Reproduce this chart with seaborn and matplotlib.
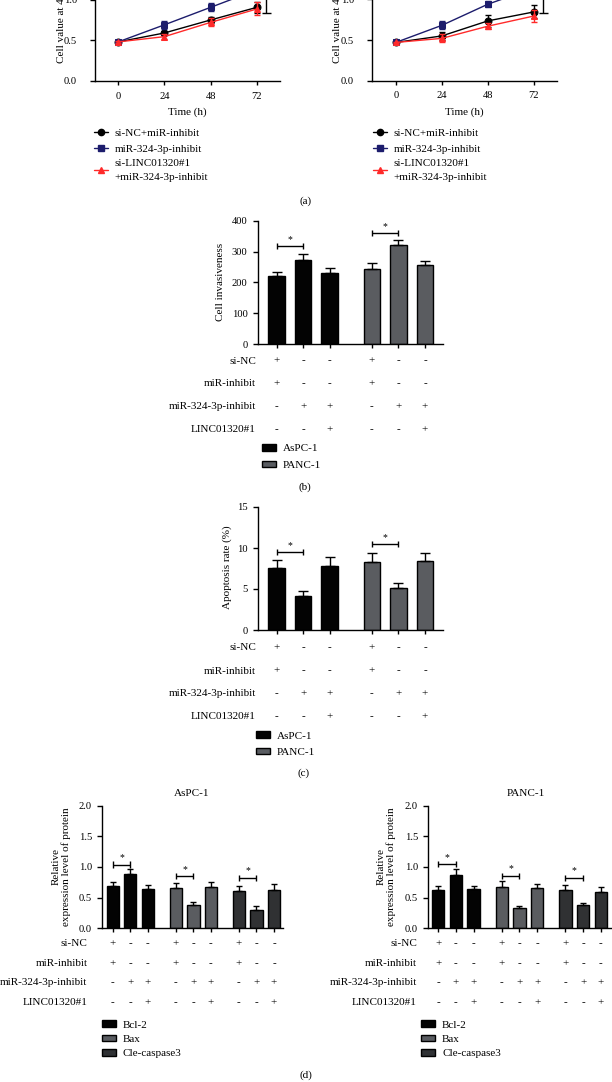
import numpy as np
import pandas as pd
import matplotlib
matplotlib.use('Agg')
import matplotlib.pyplot as plt
import matplotlib.transforms as mtrans
from matplotlib.lines import Line2D
from matplotlib.patches import Patch
import seaborn as sns

W, H = 612, 1082

# ---------------- data ----------------
time_h = [0, 24, 48, 72]
a_labels = ['si-NC+miR-inhibit', 'miR-324-3p-inhibit', 'si-LINC01320#1\n+miR-324-3p-inhibit']
a_colors = ['#000000', '#1c1c6c', '#ff2a2a']
a_markers = ['o', 's', '^']

a1_nc = [0.48, 0.59, 0.75, 0.905]
a1_mir = [0.48, 0.69, 0.905, 1.12]
a1_si = [0.48, 0.545, 0.72, 0.885]
a1_nc_err = [0.01, 0.03, 0.04, 0.07]
a1_mir_err = [0.01, 0.05, 0.05, 0.06]
a1_si_err = [0.01, 0.03, 0.05, 0.08]

a2_nc = [0.47, 0.55, 0.735, 0.845]
a2_mir = [0.47, 0.68, 0.94, 1.14]
a2_si = [0.47, 0.52, 0.67, 0.795]
a2_nc_err = [0.01, 0.05, 0.07, 0.08]
a2_mir_err = [0.01, 0.05, 0.04, 0.06]
a2_si_err = [0.01, 0.05, 0.04, 0.07]

a_sig_x = 76.8
a1_sig = [0.84, 1.3]
a2_sig = [0.83, 1.3]

row_names = ['si-NC', 'miR-inhibit', 'miR-324-3p-inhibit', 'LINC01320#1']
row_signs = [['+', '-', '-'], ['+', '-', '-'], ['-', '+', '+'], ['-', '-', '+']]

bc_pos = [0, 1, 2, 3.6, 4.6, 5.6]
bc_cells = ['AsPC-1'] * 3 + ['PANC-1'] * 3
cell_palette = {'AsPC-1': '#030303', 'PANC-1': '#595c61'}

b_vals = [222, 273, 232, 243, 320, 257]
b_err = [11, 19, 16, 21, 19, 13]
b_sig = [(0, 1, 319), (3.6, 4.6, 361)]

c_vals = [7.55, 4.2, 7.8, 8.25, 5.1, 8.42]
c_err = [1.0, 0.5, 1.06, 1.1, 0.65, 1.0]
c_sig = [(0, 1, 9.5), (3.6, 4.6, 10.5)]

d_pos = [0, 1, 2, 3.6, 4.6, 5.6, 7.2, 8.2, 9.2]
d_prot = ['Bcl-2'] * 3 + ['Bax'] * 3 + ['Cle-caspase3'] * 3
prot_palette = {'Bcl-2': '#030303', 'Bax': '#595c61', 'Cle-caspase3': '#2f3134'}

d1_vals = [0.69, 0.886, 0.646, 0.657, 0.38, 0.674, 0.61, 0.30, 0.63]
d1_err = [0.065, 0.085, 0.065, 0.087, 0.055, 0.076, 0.08, 0.06, 0.10]
d1_sig = [(0, 1, 1.04), (3.6, 4.6, 0.853), (7.2, 8.2, 0.826)]

d2_vals = [0.62, 0.865, 0.636, 0.674, 0.326, 0.663, 0.625, 0.38, 0.587]
d2_err = [0.065, 0.097, 0.06, 0.093, 0.045, 0.057, 0.075, 0.04, 0.093]
d2_sig = [(0, 1, 1.05), (3.6, 4.6, 0.86), (7.2, 8.2, 0.826)]

# ---------------- style ----------------
sns.set_theme(style='ticks')
plt.rcParams['font.family'] = ['Liberation Serif', 'DejaVu Serif']
plt.rcParams.update({
    'axes.linewidth': 1.0,
    'xtick.major.width': 1.0,
    'ytick.major.width': 1.0,
    'xtick.major.size': 3.2,
    'ytick.major.size': 3.5,
    'xtick.color': 'black',
    'ytick.color': 'black',
    'axes.edgecolor': 'black',
    'text.color': 'black',
})
FS_TICK = 7.6
FS = 8.0

fig = plt.figure(figsize=(W / 100, H / 100), dpi=100)


def fx(x):
    return x / W


def fy(y):
    return 1 - y / H


def add_ax(x0, x1, ytop, ybot):
    return fig.add_axes([fx(x0), fy(ybot), (x1 - x0) / W, (ybot - ytop) / H])


def ftext(x, y, s, **kw):
    kw.setdefault('fontsize', FS)
    return fig.text(fx(x), fy(y), s, **kw)


def style_ax(ax):
    sns.despine(ax=ax)
    ax.tick_params(labelsize=FS_TICK, colors='black')
    ax.set_xlabel('')
    ax.set_ylabel('')


# ---------------- panel (a) ----------------
def line_panel(x0, x1, y0, xlim, series, errs, sig, ylab_x):
    unit = 81.4
    ax = add_ax(x0, x1, y0 - 1.5 * unit, y0)
    for vals, err, col, mk in zip(series, errs, a_colors, a_markers):
        sns.lineplot(x=time_h, y=vals, color=col, marker=mk, markersize=5,
                     markeredgecolor=col, linewidth=1.0, ax=ax, legend=False)
        ax.errorbar(time_h, vals, yerr=err, fmt='none', ecolor=col,
                    elinewidth=1.0, capsize=2.5, capthick=1.0)
    ax.vlines(a_sig_x, sig[0], sig[1], color='black', lw=1.0)
    ax.hlines(sig[0], a_sig_x - 2.3, a_sig_x + 2.3, color='black', lw=1.0)
    ax.set_xlim(*xlim)
    ax.set_ylim(0, 1.5)
    ax.set_xticks(time_h)
    ax.set_yticks([0.0, 0.5, 1.0, 1.5])
    ax.set_yticklabels(['0.0', '0.5', '1.0', '1.5'])
    style_ax(ax)
    ax.tick_params(axis='y', pad=9.5)
    ax.tick_params(axis='x', pad=4.5)
    ftext((x0 + x1) / 2, 112, 'Time (h)', ha='center', va='center')
    ftext(ylab_x, 63, 'Cell value at 450 nm', rotation=90, ha='center', va='bottom')
    handles = [Line2D([], [], color=c, marker=m, ms=4.5, lw=1.0, mec=c)
               for c, m in zip(a_colors, a_markers)]
    return ax, handles


def line_legend(hd, x):
    leg = fig.legend(hd, a_labels, loc='upper left', bbox_to_anchor=(fx(x), fy(128.5)),
                     frameon=False, fontsize=FS, handlelength=1.25, handletextpad=0.6,
                     labelspacing=0.5, borderpad=0, borderaxespad=0)
    for t in leg.get_texts():
        t.set_linespacing(1.65)
    return leg


ax_a1, hd = line_panel(95, 280, 81, (-12, 84), [a1_nc, a1_mir, a1_si],
                       [a1_nc_err, a1_mir_err, a1_si_err], a1_sig, 61)
line_legend(hd, 94)
ax_a2, hd = line_panel(372, 557, 80.7, (-12.4, 84), [a2_nc, a2_mir, a2_si],
                       [a2_nc_err, a2_mir_err, a2_si_err], a2_sig, 338)
line_legend(hd, 373)
ftext(306, 201, '(a)', ha='center', va='center')


# ---------------- bar helper ----------------
def bar_panel(ax, pos, vals, errs, hues, palette, width, capsize, sig, dy):
    sns.barplot(x=pos, y=vals, hue=hues, palette=palette, native_scale=True,
                width=width, edgecolor='black', linewidth=1.0, errorbar=None,
                dodge=False, legend=False, ax=ax)
    ax.errorbar(pos, vals, yerr=[np.zeros(len(errs)), errs], fmt='none',
                ecolor='black', elinewidth=1.0, capsize=capsize, capthick=1.0)
    for xa, xb, yv in sig:
        ax.hlines(yv, xa, xb, color='black', lw=1.0)
        ax.vlines([xa, xb], yv - dy, yv + dy, color='black', lw=1.0)
        ax.annotate('*', xy=((xa + xb) / 2, yv), xytext=(0, 1.5),
                    textcoords='offset points', ha='center', va='bottom',
                    fontsize=7)
    ax.set_xticks(pos)
    ax.set_xticklabels([])
    style_ax(ax)


def sign_table(ax, pos, label_x, ys, reps):
    tr = mtrans.blended_transform_factory(ax.transData, fig.transFigure)
    for name, signs, y in zip(row_names, row_signs, ys):
        ftext(label_x, y, name, ha='right', va='center')
        full = signs * reps
        for p, s in zip(pos, full):
            ax.text(p, fy(y), s, transform=tr, ha='center', va='center',
                    fontsize=FS)


def patch_legend(labels, palette, x, ytop, spacing):
    hd = [Patch(facecolor=palette[l], edgecolor='black', lw=1.0) for l in labels]
    fig.legend(hd, labels, loc='upper left', bbox_to_anchor=(fx(x), fy(ytop)),
               frameon=False, fontsize=FS, handlelength=1.3, handleheight=0.55,
               handletextpad=0.6, labelspacing=spacing, borderpad=0,
               borderaxespad=0)


# ---------------- panel (b) ----------------
ub = 30.8 / 100
ax_b = add_ax(258, 443, 344 - 400 * ub, 344)
bar_panel(ax_b, bc_pos, b_vals, b_err, bc_cells, cell_palette, 0.63, 3.5, b_sig, 10)
ax_b.set_xlim(-0.7, 6.28)
ax_b.set_ylim(0, 400)
ax_b.set_yticks([0, 100, 200, 300, 400])
ax_b.tick_params(axis='y', pad=4)
ftext(220.7, 281.6, 'Cell invasiveness', rotation=90, ha='center', va='center')
sign_table(ax_b, bc_pos, 256, [361, 384, 406.7, 430], 2)
patch_legend(['AsPC-1', 'PANC-1'], cell_palette, 261.7, 444, 0.66)
ftext(305, 487, '(b)', ha='center', va='center')

# ---------------- panel (c) ----------------
uc = 8.2
ax_c = add_ax(258, 443, 630 - 15 * uc, 630)
bar_panel(ax_c, bc_pos, c_vals, c_err, bc_cells, cell_palette, 0.63, 3.5, c_sig, 0.37)
ax_c.set_xlim(-0.7, 6.28)
ax_c.set_ylim(0, 15)
ax_c.set_yticks([0, 5, 10, 15])
ax_c.tick_params(axis='y', pad=4)
ftext(227.3, 567, 'Apoptosis rate (%)', rotation=90, ha='center', va='center')
sign_table(ax_c, bc_pos, 256, [647.3, 671, 693.7, 716.7], 2)
patch_legend(['AsPC-1', 'PANC-1'], cell_palette, 256, 731.5, 0.62)
ftext(304, 773, '(c)', ha='center', va='center')

# ---------------- panel (d) ----------------
ud = 61.3
prot_labels = ['Bcl-2', 'Bax', 'Cle-caspase3']


def d_panel(x0, x1, xlim, vals, errs, sig, title_x, title, ylab_x, lab_x, leg_x):
    ax = add_ax(x0, x1, 928.3 - 2 * ud, 928.3)
    bar_panel(ax, d_pos, vals, errs, d_prot, prot_palette, 0.7, 2.5, sig, 0.05)
    ax.set_xlim(*xlim)
    ax.set_ylim(0, 2.0)
    ax.set_yticks([0.0, 0.5, 1.0, 1.5, 2.0])
    ax.set_yticklabels(['0.0', '0.5', '1.0', '1.5', '2.0'])
    ax.tick_params(axis='y', pad=3.6)
    ftext(title_x, 793.3, title, ha='center', va='center')
    ftext(ylab_x, 866.7, 'Relative\nexpression level of protein', rotation=90,
          ha='center', va='center', multialignment='center', linespacing=1.05)
    sign_table(ax, d_pos, lab_x, [944, 963.3, 982.7, 1002.7], 3)
    patch_legend(prot_labels, prot_palette, leg_x, 1020.5, 0.45)
    return ax


d_panel(101.7, 283.3, (-0.63, 9.73), d1_vals, d1_err, d1_sig, 191.7, 'AsPC-1',
        61, 87.3, 101.7)
d_panel(427.7, 612, (-0.6, 9.84), d2_vals, d2_err, d2_sig, 526, 'PANC-1',
        386.5, 417, 421)
ftext(306, 1075, '(d)', ha='center', va='center')

fig.savefig('out.png', dpi=100, facecolor='white')
